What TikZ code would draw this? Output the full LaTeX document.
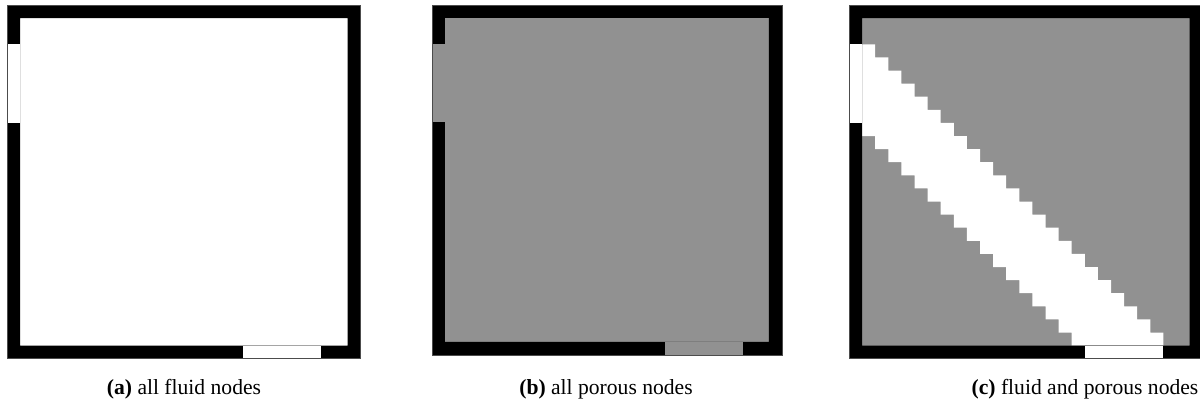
\documentclass[tikz,border=0pt]{standalone}
\usepackage{fontspec}
\setmainfont{Liberation Serif}
\definecolor{porous}{gray}{0.57}

\begin{document}
\begin{tikzpicture}[x=0.5pt,y=-0.5pt]
\tikzstyle{every node}+=[inner sep=0pt]
\tikzstyle{wall}=[fill=black,even odd rule]
\tikzstyle{edge}=[draw=black!70,line width=0.25pt]
\tikzstyle{caption}=[anchor=base,font=\fontsize{10.8}{13}\selectfont]
\useasboundingbox (0,0) rectangle (1200,412);
% (a) cavity with fluid nodes only
\begin{scope}[xshift=3.5pt,yshift=-2.5pt,x=6.55pt,y=-6.55pt]
\fill [white] (0,0) rectangle (27,27);
\fill [wall] (0,0) rectangle (27,27) (1,1) rectangle (26,26);
\fill [white] (0,3) rectangle (1,9);
\fill [white] (18,26) rectangle (24,27);
\draw [edge] (0,0) rectangle (27,27);
\end{scope}
% (b) cavity with porous nodes only
\begin{scope}[xshift=216pt,yshift=-2.5pt,x=6.48pt,y=-6.48pt]
\fill [porous] (0,0) rectangle (27,27);
\fill [wall] (0,0) rectangle (27,27) (1,1) rectangle (26,26);
\fill [porous] (0,3) rectangle (1,9);
\fill [porous] (18,26) rectangle (24,27);
\draw [edge] (0,0) rectangle (27,27);
\end{scope}
% (c) fluid channel through porous nodes
\begin{scope}[xshift=424.5pt,yshift=-2.5pt,x=6.55pt,y=-6.55pt]
\fill [porous] (0,0) rectangle (27,27);
\fill [white] (0,3) -- (2,3)
  \foreach \r in {3,...,25} { -- (\r-1,\r) -- (\r-1,\r+1) }
  -- (17,26)
  \foreach \r in {25,24,...,9} { -- (\r-8,\r+1) -- (\r-8,\r) }
  -- (0,9) -- cycle;
\fill [wall] (0,0) rectangle (27,27) (1,1) rectangle (26,26);
\fill [white] (0,3) rectangle (1,9);
\fill [white] (18,26) rectangle (24,27);
\draw [edge] (0,0) rectangle (27,27);
\end{scope}
% subcaptions
\node[caption] (capa) at (184,394) {\textbf{(a)} all fluid nodes};
\node[caption] (capb) at (606,394) {\textbf{(b)} all porous nodes};
\node[caption] (capc) at (1085,394) {\textbf{(c)} fluid and porous nodes};
\end{tikzpicture}
\end{document}
